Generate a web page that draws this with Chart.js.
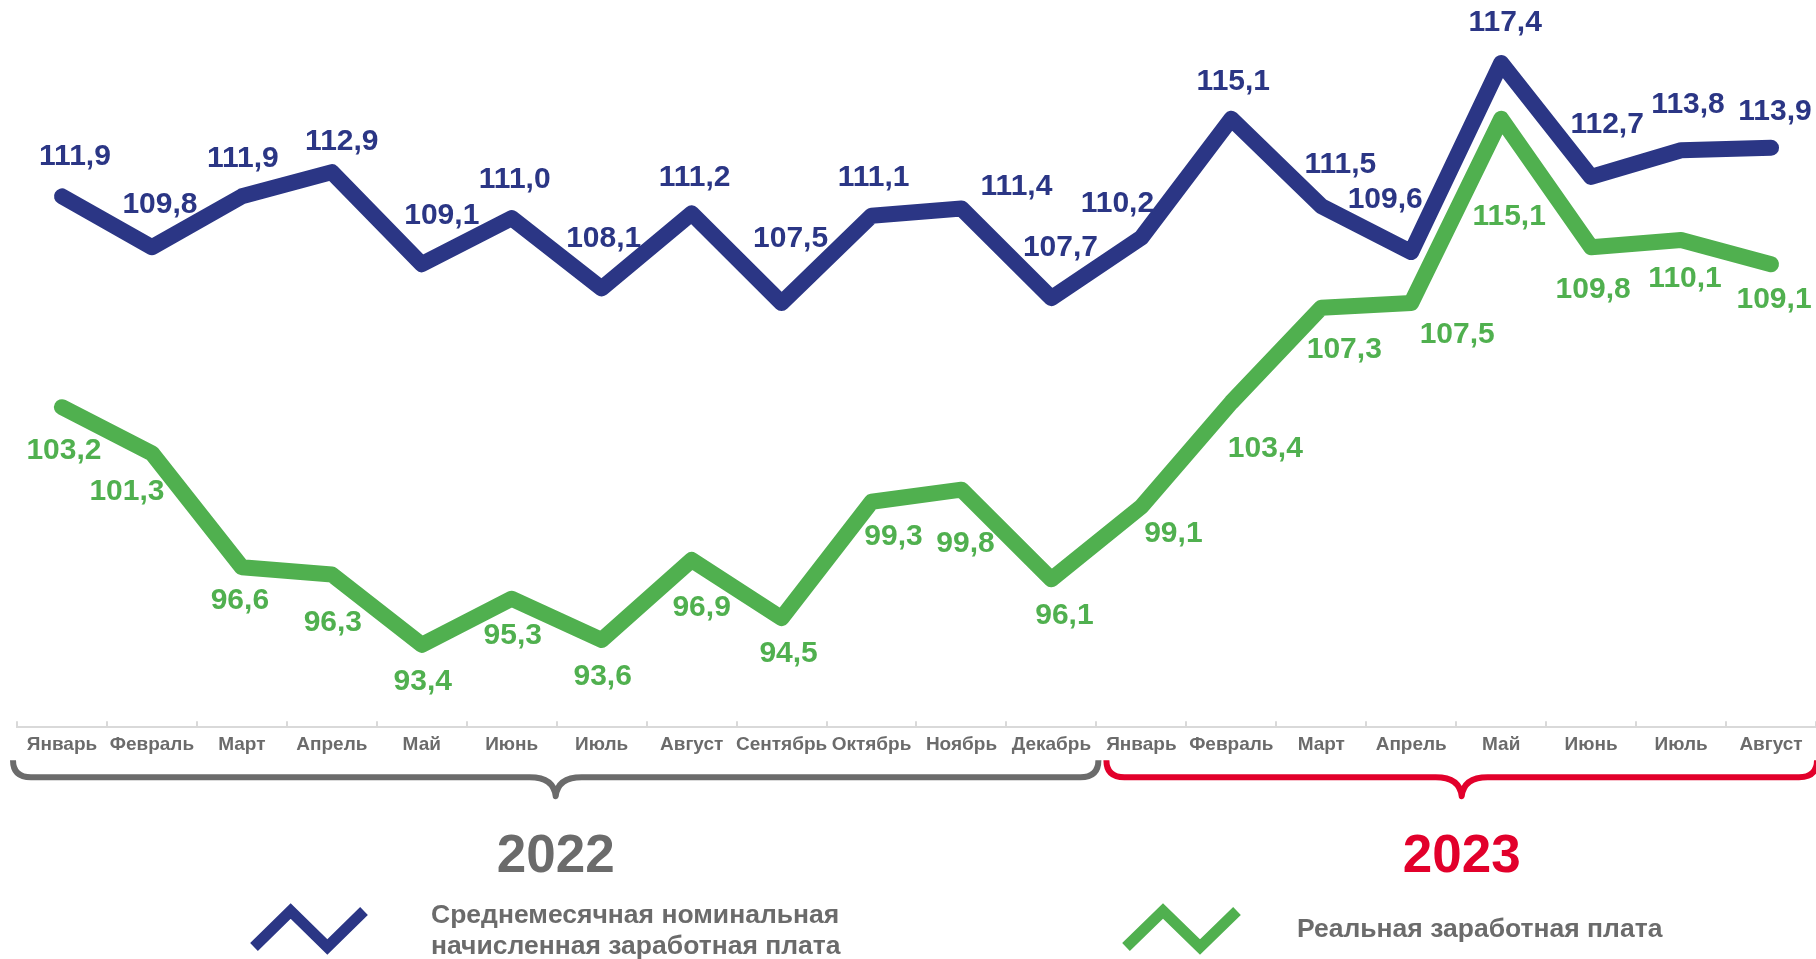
<!DOCTYPE html>
<html>
<head>
<meta charset="utf-8">
<script src="https://cdn.jsdelivr.net/npm/chart.js@4"></script>
<style>
html,body{margin:0;padding:0;background:#fff;}
canvas{display:block;}
</style>
</head>
<body>
<canvas id="c" width="1816" height="959"></canvas>
<script>
const months = ['Январь','Февраль','Март','Апрель','Май','Июнь','Июль','Август','Сентябрь','Октябрь','Ноябрь','Декабрь',
                'Январь','Февраль','Март','Апрель','Май','Июнь','Июль','Август'];
const nominal = [111.9,109.8,111.9,112.9,109.1,111.0,108.1,111.2,107.5,111.1,111.4,107.7,
                 110.2,115.1,111.5,109.6,117.4,112.7,113.8,113.9];
const real = [103.2,101.3,96.6,96.3,93.4,95.3,93.6,96.9,94.5,99.3,99.8,96.1,
              99.1,103.4,107.3,107.5,115.1,109.8,110.1,109.1];
const years = ['2022','2023'];
const yearMonths = [12, 8];
const seriesNames = [['Среднемесячная номинальная','начисленная заработная плата'], ['Реальная заработная плата']];

// label placement (offsets from the point, px)
const nomLabelOff = [[13,-40],[8,-43],[1,-38],[10,-30],[20,-48],[3,-38],[2,-50],[3,-36],[9,-64],[2,-38],
                     [55,-22],[9,-50],[-24,-34],[2,-37],[19,-41],[-26,-52],[4,-40],[16,-52],[7,-46],[4,-36]];
const realLabelOff = [[2,44],[-25,38],[-2,34],[1,48],[1,37],[1,37],[1,37],[10,48],[7,36],[22,35],
                      [4,54],[13,36],[32,27],[34,46],[23,42],[46,32],[8,98],[2,42],[4,39],[3,36]];

const BLUE = '#2b3685', GREEN = '#50b04f', GRAY = '#6b6b6b', RED = '#e2002b';
const FONT = '"Liberation Sans", Arial, sans-serif';

function fmt(v){ return v.toFixed(1).replace('.', ','); }

const decor = {
  id: 'decor',
  afterDatasetsDraw(chart) {
    const ctx = chart.ctx, xs = chart.scales.x, ys = chart.scales.y;
    const area = chart.chartArea;
    ctx.save();
    // tick marks at category boundaries
    const n = months.length;
    const step = (xs.getPixelForValue(1) - xs.getPixelForValue(0));
    const boundary = i => xs.getPixelForValue(0) - step/2 + i*step;
    ctx.strokeStyle = '#d9d9d9';
    ctx.lineWidth = 2;
    for (let i = 0; i <= n; i++) {
      const x = Math.round(boundary(i));
      ctx.beginPath(); ctx.moveTo(x, area.bottom); ctx.lineTo(x, area.bottom - 6); ctx.stroke();
    }
    // data labels
    ctx.font = 'bold 30px ' + FONT;
    ctx.textAlign = 'center'; ctx.textBaseline = 'middle';
    const sets = [[nominal, nomLabelOff, BLUE], [real, realLabelOff, GREEN]];
    sets.forEach(([vals, offs, col]) => {
      ctx.fillStyle = col;
      vals.forEach((v, i) => {
        const x = xs.getPixelForValue(i) + offs[i][0];
        const y = ys.getPixelForValue(v) + offs[i][1];
        ctx.fillText(fmt(v), x, y);
      });
    });
    // braces
    const yTop = area.bottom + 33, yH = area.bottom + 50, yTip = area.bottom + 69;
    function brace(x0, x1, col) {
      const xc = (x0 + x1) / 2, r = 18, rc = 26;
      ctx.strokeStyle = col; ctx.lineWidth = 6; ctx.lineJoin = 'round'; ctx.lineCap = 'butt';
      ctx.beginPath();
      ctx.moveTo(x0, yTop);
      ctx.quadraticCurveTo(x0, yH, x0 + r, yH);
      ctx.lineTo(xc - rc, yH);
      ctx.quadraticCurveTo(xc - 2, yH, xc, yTip);
      ctx.quadraticCurveTo(xc + 2, yH, xc + rc, yH);
      ctx.lineTo(x1 - r, yH);
      ctx.quadraticCurveTo(x1, yH, x1, yTop);
      ctx.stroke();
      return xc;
    }
    let start = 0;
    const cols = [GRAY, RED];
    years.forEach((yr, k) => {
      const x0 = boundary(start) + (k === 0 ? -4 : 10);
      const x1 = boundary(start + yearMonths[k]) + (k === 0 ? 2 : 1);
      const xc = brace(x0, x1, cols[k]);
      ctx.fillStyle = cols[k];
      ctx.font = 'bold 53px ' + FONT;
      ctx.textAlign = 'center'; ctx.textBaseline = 'middle';
      ctx.fillText(yr, xc, area.bottom + 130);
      start += yearMonths[k];
    });
    // legend
    function zig(x, y, w, h, col) {
      ctx.strokeStyle = col; ctx.lineWidth = 11; ctx.lineJoin = 'miter'; ctx.lineCap = 'butt';
      ctx.beginPath();
      ctx.moveTo(x, y + h);
      ctx.lineTo(x + w/3, y);
      ctx.lineTo(x + 2*w/3, y + h);
      ctx.lineTo(x + w, y);
      ctx.stroke();
    }
    zig(254, 911, 110, 36, BLUE);
    zig(1126, 911, 111, 36, GREEN);
    ctx.fillStyle = GRAY;
    ctx.font = 'bold 26.5px ' + FONT;
    ctx.textAlign = 'left'; ctx.textBaseline = 'middle';
    ctx.fillText(seriesNames[0][0], 431, 916);
    ctx.fillText(seriesNames[0][1], 431, 947);
    ctx.fillText(seriesNames[1][0], 1297, 930);
    ctx.restore();
  }
};

new Chart(document.getElementById('c'), {
  type: 'line',
  data: {
    labels: months,
    datasets: [
      { label: seriesNames[0].join(' '), data: nominal, borderColor: BLUE, borderWidth: 16,
        borderCapStyle: 'round', borderJoinStyle: 'round', pointRadius: 0, tension: 0, fill: false },
      { label: seriesNames[1][0], data: real, borderColor: GREEN, borderWidth: 16,
        borderCapStyle: 'round', borderJoinStyle: 'round', pointRadius: 0, tension: 0, fill: false }
    ]
  },
  options: {
    responsive: false,
    devicePixelRatio: 1,
    animation: false,
    layout: { padding: { left: 17, right: 0, top: 0, bottom: 197 } },
    plugins: { legend: { display: false }, tooltip: { enabled: false } },
    scales: {
      x: {
        offset: true,
        grid: { display: true, drawOnChartArea: false, drawTicks: false, color: 'rgba(0,0,0,0)' },
        border: { display: true, color: '#d9d9d9', width: 2 },
        ticks: { color: GRAY, font: { family: FONT, weight: 'bold', size: 19 }, padding: 6,
                 maxRotation: 0, minRotation: 0, autoSkip: false }
      },
      y: { display: false, min: 90, max: 120 }
    }
  },
  plugins: [decor]
});
</script>
</body>
</html>
